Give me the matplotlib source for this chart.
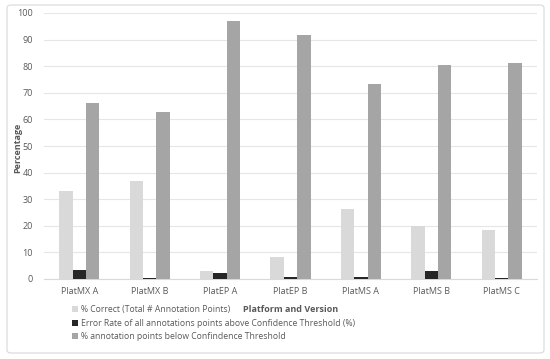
import matplotlib
matplotlib.use("Agg")
import matplotlib.pyplot as plt
import numpy as np
from matplotlib.patches import FancyBboxPatch

categories = ["PlatMX A", "PlatMX B", "PlatEP A", "PlatEP B", "PlatMS A", "PlatMS B", "PlatMS C"]
pct_correct = [33, 37, 3, 8.3, 26.2, 20.1, 18.6]
error_rate = [3.2, 0.5, 2.3, 0.9, 0.9, 3.0, 0.2]
below_thresh = [66, 62.9, 97.1, 91.6, 73.4, 80.4, 81.1]
series_names = ["% Correct (Total # Annotation Points)",
                "Error Rate of all annotations points above Confidence Threshold (%)",
                "% annotation points below Confindence Threshold"]
colors = ["#d9d9d9", "#262626", "#a5a5a5"]
yticks = list(range(0, 101, 10))

plt.rcParams['font.family'] = ['Open Sans', 'DejaVu Sans']
txt = "#595959"

fig = plt.figure(figsize=(5.5, 3.59), dpi=100)
fig.patch.set_facecolor("white")
border = FancyBboxPatch((7/550, 1-353/359), 537/550, 348/359,
                        boxstyle="round,pad=0,rounding_size=0.008",
                        transform=fig.transFigure, facecolor="white",
                        edgecolor="#d9d9d9", linewidth=0.8, zorder=-5)
fig.patches.append(border)

ax = fig.add_axes([44/550, 1-279/359, 493/550, 266/359])
ax.set_zorder(2)
ax.patch.set_alpha(0)
x = np.arange(len(categories))
w = 0.19
for i, (vals, name, c) in enumerate(zip([pct_correct, error_rate, below_thresh], series_names, colors)):
    ax.bar(x + (i-1)*w, vals, width=w, color=c, label=name, zorder=3)

ax.set_xlim(-0.5, len(categories)-0.5)
ax.set_ylim(0, 100)
ax.set_yticks(yticks)
ax.set_xticks(x)
ax.set_xticklabels(categories, fontsize=6.5, color=txt)
ax.tick_params(axis='y', labelsize=6.5, colors=txt, length=0, pad=8)
ax.tick_params(axis='x', length=0, pad=6, colors=txt)
ax.grid(axis='y', color="#e6e6e6", linewidth=0.8, zorder=0)
for s in ["top", "right", "left"]:
    ax.spines[s].set_visible(False)
ax.spines["bottom"].set_color("#d9d9d9")
fig.text(18/550, 1-148/359, "Percentage", fontsize=6.5, fontweight="bold", color=txt,
         rotation=90, ha="center", va="center")
fig.text(291/550, 1-310/359, "Platform and Version", fontsize=6.5, fontweight="bold",
         color=txt, ha="center", va="center")

fig.legend(loc="upper left", bbox_to_anchor=(72/550, 1-305/359), frameon=False,
           fontsize=6.2, labelcolor=txt, handlelength=0.7, handleheight=0.7,
           handletextpad=0.4, labelspacing=0.55, borderaxespad=0, borderpad=0)

fig.savefig("out.png", dpi=100)
